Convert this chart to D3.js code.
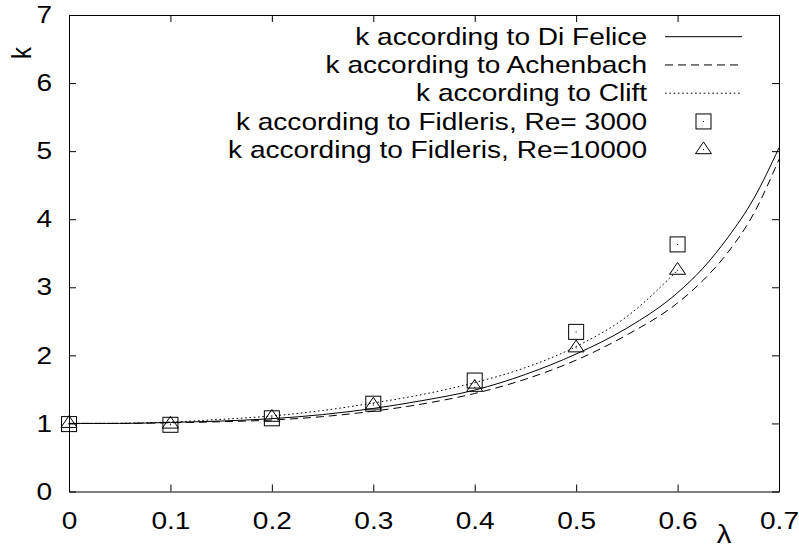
<!DOCTYPE html>
<html>
<head>
<meta charset="utf-8">
<script src="https://cdn.jsdelivr.net/npm/d3@7"></script>
<style>
  body { margin: 0; background: #fff; }
  svg text { font-family: "Liberation Sans", Arial, Helvetica, sans-serif; fill: #000; }
</style>
</head>
<body>
<svg id="chart" width="799" height="550"></svg>
<script>
// wall factor k against diameter ratio lambda
var lambdas = [0, 0.05, 0.1, 0.15, 0.2, 0.25, 0.3, 0.35, 0.4, 0.45, 0.5, 0.55, 0.6, 0.625, 0.65, 0.675, 0.7]
var k_di_felice = [1.00, 1.00, 1.015, 1.035, 1.07, 1.13, 1.22, 1.34, 1.49, 1.72, 2.02, 2.40, 2.92, 3.28, 3.74, 4.30, 5.05]
var k_achenbach = [1.00, 1.00, 1.01, 1.025, 1.05, 1.10, 1.18, 1.29, 1.44, 1.65, 1.93, 2.30, 2.77, 3.10, 3.52, 4.08, 4.88]

var lambdas_clift = [0, 0.05, 0.1, 0.15, 0.2, 0.25, 0.3, 0.35, 0.4, 0.45, 0.5, 0.55, 0.6]
var k_clift = [1.00, 1.003, 1.02, 1.06, 1.11, 1.19, 1.30, 1.43, 1.60, 1.82, 2.13, 2.57, 3.25]

var lambdas_fidleris = [0, 0.1, 0.2, 0.3, 0.4, 0.5, 0.6]
var k_re3000 = [0.99, 0.98, 1.075, 1.29, 1.63, 2.345, 3.63]
var k_re10000 = [1.00, 0.99, 1.09, 1.27, 1.53, 2.11, 3.25]

var x_ticks = [0, 0.1, 0.2, 0.3, 0.4, 0.5, 0.6, 0.7]
var y_ticks = [0, 1, 2, 3, 4, 5, 6, 7]

var legend_labels = [
  'k according to Di Felice',
  'k according to Achenbach',
  'k according to Clift',
  'k according to Fidleris, Re= 3000',
  'k according to Fidleris, Re=10000'
]

// text in this figure is a bit wider than plain Arial
var font_size = 24
var stretch = 1.17

var svg = d3.select('#chart')

var x = d3.scaleLinear().domain([0, 0.7]).range([69, 779])
var y = d3.scaleLinear().domain([0, 7]).range([491.5, 15])

function stretch_labels(axis_g) {
  axis_g.selectAll('text')
    .attr('transform', 'scale(' + stretch + ',1)')
    .style('font-size', font_size + 'px')
    .attr('font-family', null)
}

function style_axis(axis_g) {
  axis_g.attr('font-family', null).attr('font-size', null)
  axis_g.selectAll('path, line').attr('stroke', '#000').attr('stroke-width', 1)
}

// Axes with inward ticks, mirrored on top and right
var ax_bottom = svg.append('g')
  .attr('transform', 'translate(0,' + y(0) + ')')
  .call(d3.axisBottom(x).tickValues(x_ticks).tickSize(-7).tickSizeOuter(0).tickPadding(20)
    .tickFormat(d => d === 0 ? '0' : d3.format('.1f')(d)))
style_axis(ax_bottom)
stretch_labels(ax_bottom)

var ax_top = svg.append('g')
  .attr('transform', 'translate(0,' + y(7) + ')')
  .call(d3.axisTop(x).tickValues(x_ticks).tickSize(-7).tickSizeOuter(0).tickFormat(''))
style_axis(ax_top)

var ax_left = svg.append('g')
  .attr('transform', 'translate(' + x(0) + ',0)')
  .call(d3.axisLeft(y).tickValues(y_ticks).tickSize(-7).tickSizeOuter(0).tickPadding(14.5)
    .tickFormat(d3.format('d')))
style_axis(ax_left)
stretch_labels(ax_left)

var ax_right = svg.append('g')
  .attr('transform', 'translate(' + x(0.7) + ',0)')
  .call(d3.axisRight(y).tickValues(y_ticks).tickSize(-7).tickSizeOuter(0).tickFormat(''))
style_axis(ax_right)

// Axis titles
svg.append('text')
  .text('k')
  .attr('transform', 'translate(21,53) scale(' + stretch + ',1) rotate(-90)')
  .attr('text-anchor', 'middle')
  .attr('dominant-baseline', 'central')
  .style('font-size', font_size + 'px')

svg.append('text')
  .text('λ')
  .attr('transform', 'translate(724,543) scale(' + stretch + ',1)')
  .attr('text-anchor', 'middle')
  .style('font-size', '25px')

// Curves
svg.append('clipPath').attr('id', 'plot-clip')
  .append('rect')
  .attr('x', x(0)).attr('y', y(7))
  .attr('width', x(0.7) - x(0)).attr('height', y(0) - y(7))

var line = d3.line()
  .x(d => x(d[0]))
  .y(d => y(d[1]))
  .curve(d3.curveMonotoneX)

var curves = [
  {xs: lambdas, ks: k_di_felice, dash: null},
  {xs: lambdas, ks: k_achenbach, dash: '8,5'},
  {xs: lambdas_clift, ks: k_clift, dash: '1.6,2.7'}
]

var plot = svg.append('g').attr('clip-path', 'url(#plot-clip)')
curves.forEach(c => {
  plot.append('path')
    .datum(d3.zip(c.xs, c.ks))
    .attr('d', line)
    .attr('fill', 'none')
    .attr('stroke', '#000')
    .attr('stroke-width', 1)
    .attr('stroke-dasharray', c.dash)
})

// Point symbols
function draw_square(g, cx, cy) {
  g.append('rect')
    .attr('x', cx - 7.5).attr('y', cy - 7.5)
    .attr('width', 15).attr('height', 15)
    .attr('fill', 'none').attr('stroke', '#000').attr('stroke-width', 1)
  g.append('rect')
    .attr('x', cx - 0.5).attr('y', cy - 0.5)
    .attr('width', 1).attr('height', 1)
    .attr('fill', '#000')
}

function draw_triangle(g, cx, cy) {
  g.append('path')
    .attr('d', 'M' + cx + ',' + (cy - 7.8) + 'L' + (cx - 8) + ',' + (cy + 4) + 'L' + (cx + 8) + ',' + (cy + 4) + 'Z')
    .attr('fill', 'none').attr('stroke', '#000').attr('stroke-width', 1)
  g.append('rect')
    .attr('x', cx - 0.5).attr('y', cy - 0.5)
    .attr('width', 1).attr('height', 1)
    .attr('fill', '#000')
}

var points = svg.append('g')
lambdas_fidleris.forEach((l, i) => {
  draw_square(points, x(l), y(k_re3000[i]))
  draw_triangle(points, x(l), y(k_re10000[i]))
})

// Legend
var legend = svg.append('g')
var legend_y0 = 36.7
var legend_dy = 28.25
var legend_text_x = 647
var sample_x0 = 665
var sample_x1 = 742

legend_labels.forEach((label, i) => {
  var ly = legend_y0 + legend_dy * i
  legend.append('text')
    .text(label)
    .attr('transform', 'translate(' + legend_text_x + ',' + ly + ') scale(' + stretch + ',1)')
    .attr('text-anchor', 'end')
    .attr('dominant-baseline', 'central')
    .style('font-size', font_size + 'px')
    .style('white-space', 'pre')
    .attr('xml:space', 'preserve')

  if (i < 3) {
    legend.append('line')
      .attr('x1', sample_x0).attr('x2', sample_x1)
      .attr('y1', ly).attr('y2', ly)
      .attr('stroke', '#000').attr('stroke-width', 1)
      .attr('stroke-dasharray', curves[i].dash)
  } else if (i === 3) {
    draw_square(legend, (sample_x0 + sample_x1) / 2, ly)
  } else {
    draw_triangle(legend, (sample_x0 + sample_x1) / 2, ly)
  }
})
</script>
</body>
</html>
